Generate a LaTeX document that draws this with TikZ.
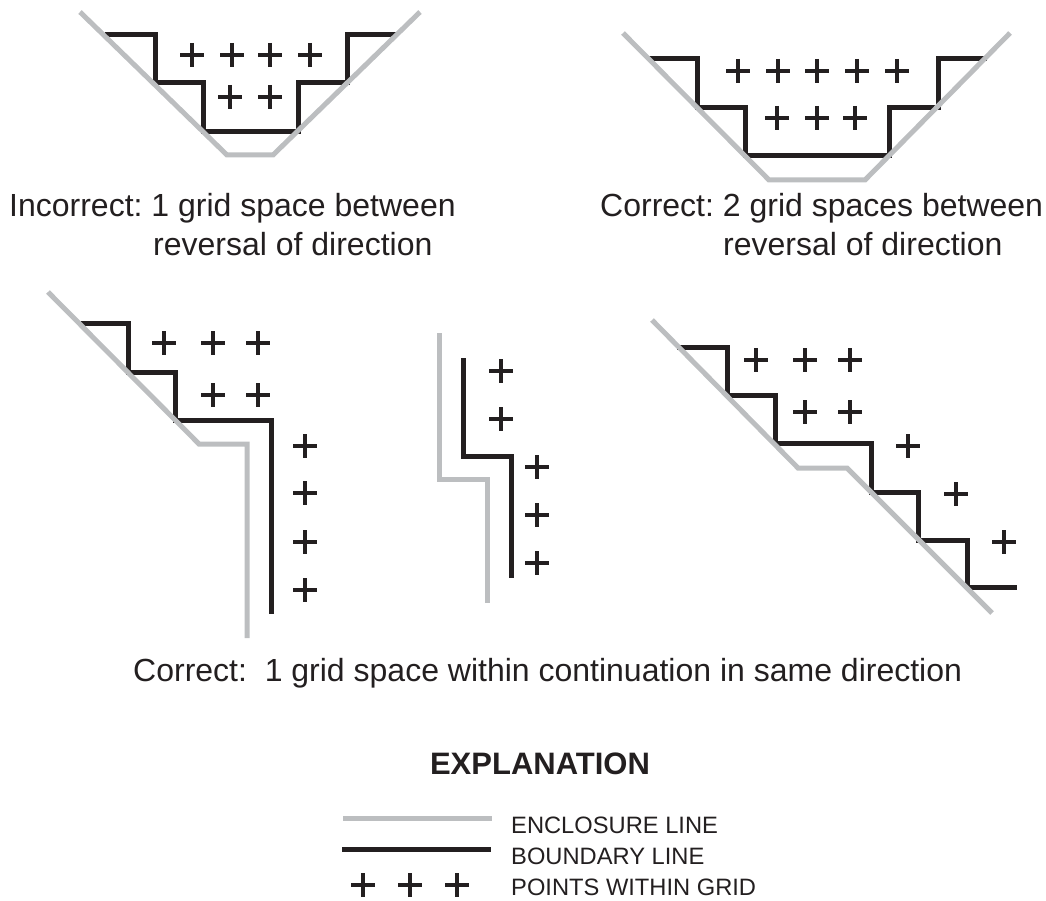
\documentclass[tikz,border=0pt]{standalone}
\usepackage{fontspec}
\setmainfont{Liberation Sans}
\frenchspacing
\definecolor{encl}{RGB}{188,190,192}
\definecolor{bnd}{RGB}{35,31,32}
% a grid point is a plain cross
\tikzset{gridpt/.pic={\draw[bnd, line width=3.2pt] (-12,0) -- (12,0) (0,-12) -- (0,12);}}
\begin{document}
\begin{tikzpicture}[x=1pt, y=-1pt,
    enclosure/.style={draw=encl, line width=5pt},
    boundary/.style={draw=bnd, line width=5pt},
    caption/.style={anchor=base west, inner sep=0pt, text=bnd, font=\fontsize{32}{38}\selectfont},
    legend/.style={anchor=base west, inner sep=0pt, text=bnd, font=\fontsize{23.7}{28}\selectfont}]
   \useasboundingbox (0,0) rectangle (1046,901);

   % upper left: one space between reversals
   \draw[boundary] (105,35) -- (155,35) -- (155,83) -- (203,83) -- (203,132) -- (298,132)
      -- (298,83) -- (347,83) -- (347,35) -- (396,35);
   \draw[enclosure] (80,12) -- (227,155) -- (273,155) -- (420,12);
   \foreach \x in {192,232,270,310} \pic at (\x,55) {gridpt};
   \foreach \x in {230,270} \pic at (\x,97) {gridpt};
   \node[caption] (inc1) at (9,217) {Incorrect: 1 grid space between};
   \node[caption] (inc2) at (153,255) {reversal of direction};

   % upper right: two spaces between reversals
   \draw[boundary] (647,59) -- (697,59) -- (697,108) -- (745,108) -- (745,156) -- (889,156)
      -- (889,108) -- (938,108) -- (938,59) -- (987,59);
   \draw[enclosure] (623,33) -- (769,180) -- (865,180) -- (1010,33);
   \foreach \x in {738,778,817,857,897} \pic at (\x,71) {gridpt};
   \foreach \x in {777,817,855} \pic at (\x,118) {gridpt};
   \node[caption] (cor1) at (600,217) {Correct: 2 grid spaces between};
   \node[caption] (cor2) at (723,255) {reversal of direction};

   % lower left
   \draw[boundary] (81,323) -- (128,323) -- (128,372) -- (175,372) -- (175,420) -- (271,420) -- (271,614);
   \draw[enclosure] (48,292) -- (199,444) -- (247,444) -- (247,638);
   \foreach \x in {164,213,258} \pic at (\x,343) {gridpt};
   \foreach \x in {213,258} \pic at (\x,395) {gridpt};
   \foreach \y in {446,493,542,590} \pic at (305,\y) {gridpt};

   % middle
   \draw[boundary] (463,358) -- (463,456) -- (511,456) -- (511,578);
   \draw[enclosure] (439,333) -- (439,479) -- (487,479) -- (487,603);
   \foreach \y in {371,419} \pic at (501,\y) {gridpt};
   \foreach \y in {467,515,563} \pic at (537,\y) {gridpt};

   % lower right
   \draw[boundary] (677,347) -- (727,347) -- (727,395) -- (775,395) -- (775,443) -- (871,443)
      -- (871,492) -- (918,492) -- (918,540) -- (967,540) -- (967,587) -- (1017,587);
   \draw[enclosure] (652,320) -- (798,468) -- (847,468) -- (992,613);
   \foreach \x in {756,805,850} \pic at (\x,360) {gridpt};
   \foreach \x in {805,850} \pic at (\x,412) {gridpt};
   \pic at (908,446) {gridpt};
   \pic at (956,494) {gridpt};
   \pic at (1004,542) {gridpt};

   \node[caption] (same) at (133,681) {Correct:\ \ 1 grid space within continuation in same direction};

   % explanation
   \node[anchor=base, inner sep=0pt, text=bnd, font=\fontsize{31}{36}\selectfont\bfseries] (expl) at (540,774) {EXPLANATION};
   \draw[enclosure] (343,818) -- (492,818);
   \draw[boundary] (342,849) -- (491,849);
   \foreach \x in {363,410,457} \pic at (\x,885) {gridpt};
   \node[legend] (lencl) at (511,833) {ENCLOSURE LINE};
   \node[legend] (lbnd) at (511,864) {BOUNDARY LINE};
   \node[legend] (lpts) at (511,895) {POINTS WITHIN GRID};
 \end{tikzpicture}
\end{document}
